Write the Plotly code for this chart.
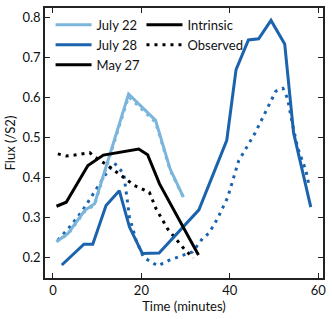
import plotly.graph_objects as go

# July 22
t22 = [0.8, 3.4, 7.2, 9.4, 17.1, 23.2, 26.5, 29.5]
y22_int = [0.239, 0.260, 0.318, 0.334, 0.609, 0.543, 0.421, 0.351]
y22_obs = [0.240, 0.258, 0.315, 0.331, 0.602, 0.538, 0.418, 0.350]

# July 28
t28 = [2.0, 7.0, 9.0, 12.0, 15.0, 17.3, 20.2, 24.0, 33.0, 39.3, 41.4, 44.2, 46.5, 49.3, 52.4, 54.4, 58.3]
y28_int = [0.181, 0.233, 0.233, 0.330, 0.367, 0.276, 0.210, 0.211, 0.319, 0.493, 0.670, 0.744, 0.747, 0.793, 0.734, 0.512, 0.326]
t28o = [1.1, 4.1, 6.8, 9.4, 12.0, 13.9, 16.0, 17.3, 18.8, 20.5, 23.7, 26.3, 31.6, 33.8, 35.3, 37.2,
        39.5, 42.0, 45.7, 47.8, 50.4, 52.0, 53.0, 54.1, 55.3, 57.2, 57.9]
y28_obs = [0.243, 0.280, 0.319, 0.363, 0.409, 0.436, 0.410, 0.301, 0.243, 0.200, 0.179, 0.193, 0.214, 0.247, 0.261, 0.297,
           0.350, 0.442, 0.511, 0.558, 0.616, 0.623, 0.599, 0.537, 0.475, 0.417, 0.380]

# May 27
t27 = [0.8, 3.0, 7.9, 11.4, 19.4, 21.4, 24.1, 32.9]
y27_int = [0.328, 0.338, 0.430, 0.456, 0.471, 0.457, 0.384, 0.206]
t27o = [1.1, 3.0, 4.9, 6.8, 8.3, 9.4, 12.4, 15.4, 18.4, 21.8, 23.3, 25.9, 29.3, 31.7]
y27_obs = [0.459, 0.454, 0.456, 0.459, 0.462, 0.452, 0.430, 0.405, 0.380, 0.363, 0.322, 0.272, 0.226, 0.198]

x_ticks = [0, 20, 40, 60]
y_ticks = [0.2, 0.3, 0.4, 0.5, 0.6, 0.7, 0.8]

LIGHT = "#7ab5dc"
DARK = "#1b63ad"
BLACK = "#000000"
LW = 3
DOT = "3px,5px"

fig = go.Figure()
fig.add_trace(go.Scatter(x=t22, y=y22_obs, mode="lines", line=dict(color=LIGHT, width=LW, dash=DOT), showlegend=False))
fig.add_trace(go.Scatter(x=t28o, y=y28_obs, mode="lines", line=dict(color=DARK, width=LW, dash=DOT), showlegend=False))
fig.add_trace(go.Scatter(x=t27o, y=y27_obs, mode="lines", line=dict(color=BLACK, width=LW, dash=DOT), showlegend=False))

fig.add_trace(go.Scatter(x=t22, y=y22_int, mode="lines", name="July 22", line=dict(color=LIGHT, width=LW), legend="legend"))
fig.add_trace(go.Scatter(x=t28, y=y28_int, mode="lines", name="July 28", line=dict(color=DARK, width=LW), legend="legend"))
fig.add_trace(go.Scatter(x=t27, y=y27_int, mode="lines", name="May 27", line=dict(color=BLACK, width=LW), legend="legend"))

fig.add_trace(go.Scatter(x=[None], y=[None], mode="lines", name="Intrinsic", line=dict(color=BLACK, width=LW), legend="legend2"))
fig.add_trace(go.Scatter(x=[None], y=[None], mode="lines", name="Observed", line=dict(color=BLACK, width=LW, dash=DOT), legend="legend2"))

FONT = dict(family="Lato", size=13, color="#111111")
LFONT = dict(family="Lato", size=13, color="#111111")
axis_common = dict(
    showgrid=False, zeroline=False, showline=True, linecolor="#222222", linewidth=1.5,
    mirror="ticks", ticks="inside", ticklen=5, tickwidth=1.2, tickcolor="#222222",
    tickfont=FONT,
)

fig.update_layout(
    width=332, height=319,
    margin=dict(l=45, r=8, t=6, b=41),
    paper_bgcolor="white", plot_bgcolor="white",
    font=FONT,
    xaxis=dict(range=[-1.8, 61.06], tickvals=x_ticks, ticktext=[str(v) for v in x_ticks],
               title=dict(text="Time (minutes)", font=FONT, standoff=4), **axis_common),
    yaxis=dict(range=[0.1485, 0.824], tickvals=y_ticks, ticktext=[f"{v:.1f}" for v in y_ticks],
               title=dict(text="Flux (/S2)", font=FONT, standoff=4), **axis_common),
    legend=dict(x=0.02, y=0.993, xanchor="left", yanchor="top", bgcolor="rgba(0,0,0,0)",
                font=LFONT, tracegroupgap=0, itemwidth=36),
    legend2=dict(x=0.347, y=0.993, xanchor="left", yanchor="top", bgcolor="rgba(0,0,0,0)",
                 font=LFONT, tracegroupgap=0, itemwidth=36),
)

fig.write_html("out.html", config={"displayModeBar": False},
               post_script="document.body.style.margin='0';document.body.style.padding='0';")
